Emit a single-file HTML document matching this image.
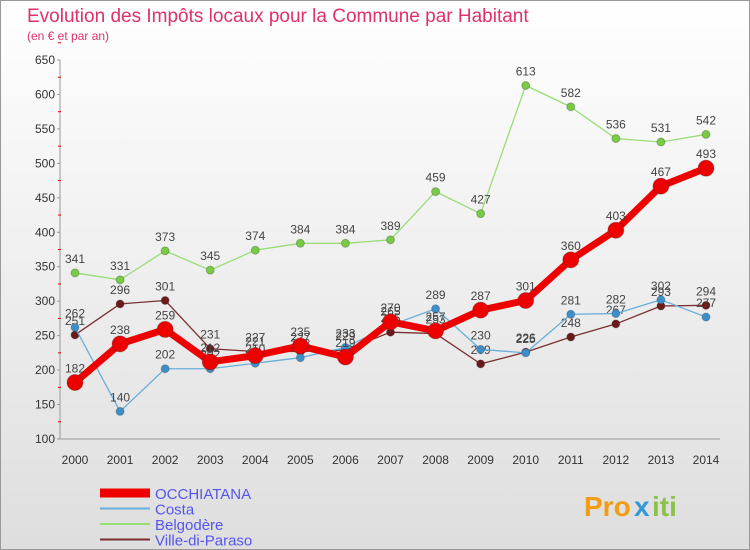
<!DOCTYPE html>
<html><head><meta charset="utf-8"><style>
body{margin:0;width:750px;height:550px;overflow:hidden;font-family:"Liberation Sans",sans-serif}
#wrap{position:absolute;left:0;top:0;width:748px;height:548px;border:1px solid #999;background:linear-gradient(#fff,#dedede)}
</style></head><body>
<div id="wrap"></div>
<svg id="c" width="750" height="550" style="position:absolute;left:0;top:0">
<text x="27" y="22" font-size="19" fill="#e0306b">Evolution des Impôts locaux pour la Commune par Habitant</text>
<text x="27" y="40" font-size="12" fill="#e0306b">(en € et par an)</text>
<g id="axes"></g><g id="series"></g><g id="legend"></g>
<g font-size="28" font-weight="bold">
<text x="584" y="516" fill="#f39c12">Pro</text><text x="634" y="516" fill="#3498db">x</text><text x="652" y="516" fill="#8bc34a">iti</text>
</g>
</svg>
<script>
const years=[2000,2001,2002,2003,2004,2005,2006,2007,2008,2009,2010,2011,2012,2013,2014];
const yTicks=[100,150,200,250,300,350,400,450,500,550,600,650];
const occh=[182,238,259,212,221,235,219,270,257,287,301,360,403,467,493];
const costa=[262,140,202,202,210,218,233,265,289,230,225,281,282,302,277];
const belgo=[341,331,373,345,374,384,384,389,459,427,613,582,536,531,542];
const ville=[251,296,301,231,227,227,229,255,253,209,226,248,267,293,294];
const NS="http://www.w3.org/2000/svg";
const X=i=>75+i*(706-75)/14, Y=v=>439-(v-100)*(379/550);
function mk(t,a,p){const e=document.createElementNS(NS,t);for(const k in a)e.setAttribute(k,a[k]);p.appendChild(e);return e;}
const ax=document.getElementById('axes');
const yl=mk('line',{x1:60,y1:60,x2:60,y2:439,stroke:'#999'},ax);


const xl=mk('line',{x1:60,y1:439,x2:720,y2:439,stroke:'#999'},ax);


yTicks.forEach(v=>{const t=mk('text',{x:55,y:Y(v)+4,'font-size':12,'text-anchor':'end',fill:'#333'},ax);t.textContent=v;


mk('line',{x1:57,x2:60,y1:Y(v),y2:Y(v),stroke:'#999'},ax);
mk('line',{x1:58,x2:61,y1:Y(v+25),y2:Y(v+25),stroke:'#e00'},ax);});
years.forEach((y,i)=>{const t=mk('text',{x:X(i),y:464,'font-size':12,'text-anchor':'middle',fill:'#333'},ax);t.textContent=y;

});
const sg=document.getElementById('series');
function draw(d,col,w,r,name,dot){const g=mk('g',{},sg);


mk('polyline',{points:d.map((v,i)=>X(i)+','+Y(v)).join(' '),fill:'none',stroke:col,'stroke-width':w,'stroke-linejoin':'round'},g);
d.forEach((v,i)=>{const c=mk('circle',{cx:X(i),cy:Y(v),r:r,fill:dot,stroke:'#333','stroke-opacity':0.3},g);


const t=mk('text',{x:X(i),y:Y(v)-10,'font-size':12,'text-anchor':'middle',fill:'#444'},g);t.textContent=v;});}
draw(belgo,'#99dd77',1.3,4,'belgodere','#77cc44');
draw(ville,'#7a3030',1.3,4,'ville-di-paraso','#6b1a1a');
draw(costa,'#6aaedb',1.3,4,'costa','#3d8fcc');
draw(occh,'#ee0000',7,8,'occhiatana','#ee0000');
const lg=document.getElementById('legend');
[['OCCHIATANA','#ee0000',9],['Costa','#6aaedb',2],['Belgodère','#99dd77',2],['Ville-di-Paraso','#7a3030',2]].forEach((e,i)=>{
const y=493+i*15.5;const g=mk('g',{},lg);


mk('line',{x1:100,x2:150,y1:y,y2:y,stroke:e[1],'stroke-width':e[2]},g);
const t=mk('text',{x:155,y:y+6,'font-size':15,fill:'#5555ee'},g);t.textContent=e[0];});
</script>
</body></html>
